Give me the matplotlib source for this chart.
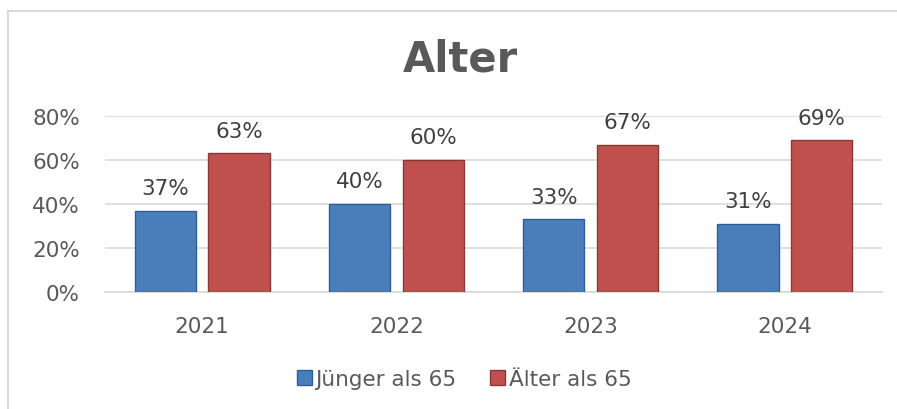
import numpy as np
import matplotlib.pyplot as plt
from matplotlib.lines import Line2D
from matplotlib.ticker import PercentFormatter

years = ["2021", "2022", "2023", "2024"]
juenger = [0.37, 0.40, 0.33, 0.31]
aelter = [0.63, 0.60, 0.67, 0.69]
labels = ["Jünger als 65", "Älter als 65"]

W, H = 897, 410
fig = plt.figure(figsize=(W / 100, H / 100), dpi=100)
ax = fig.add_axes([105 / W, 1 - 293 / H, 777 / W, 176 / H])

grey = "#595959"
fs = 15.5
x = np.arange(len(years))
bw = 0.315
off = 0.19

b1 = ax.bar(x - off, juenger, bw, color="#4a7ebb", edgecolor="#2f5f98", linewidth=1, zorder=3, label=labels[0])
b2 = ax.bar(x + off, aelter, bw, color="#c0504d", edgecolor="#8c3836", linewidth=1, zorder=3, label=labels[1])

for bars, vals in [(b1, juenger), (b2, aelter)]:
    for r, v in zip(bars, vals):
        ax.annotate(f"{v:.0%}", (r.get_x() + r.get_width() / 2, v), xytext=(0, 9),
                    textcoords="offset points", ha="center", va="bottom",
                    fontsize=fs, color="#404040")

ax.set_xlim(-0.5, 3.5)
ax.set_ylim(0, 0.8)
ax.set_yticks([0, 0.2, 0.4, 0.6, 0.8])
ax.yaxis.set_major_formatter(PercentFormatter(1.0, decimals=0))
ax.set_xticks(x)
ax.set_xticklabels(years)
ax.tick_params(axis="both", length=0, labelsize=fs, labelcolor=grey)
ax.tick_params(axis="y", pad=18)
ax.tick_params(axis="x", pad=17)
ax.grid(axis="y", color="#d9d9d9", linewidth=1.2, zorder=0)
for s in ["top", "right", "left"]:
    ax.spines[s].set_visible(False)
ax.spines["bottom"].set_color("#d9d9d9")
ax.spines["bottom"].set_linewidth(1.2)

fig.text(460 / W, 1 - 60 / H, "Alter", ha="center", va="center",
         fontsize=30, fontweight="bold", color=grey)

fig.legend(handles=[b1, b2], labels=labels, loc="center", ncol=2,
           bbox_to_anchor=(464 / W, 1 - 380 / H), frameon=False,
           fontsize=fs, handlelength=0.7, handleheight=0.7,
           handletextpad=0.15, columnspacing=1.6, labelcolor=grey)

# chart frame: only the top and left edges show in the crop
top = 1 - 12 / H
left = 8 / W
fig.add_artist(Line2D([left, 1], [top, top], color="#d9d9d9", linewidth=1.5, transform=fig.transFigure))
fig.add_artist(Line2D([left, left], [0, top], color="#d9d9d9", linewidth=1.5, transform=fig.transFigure))

fig.savefig("out.png", dpi=100)
